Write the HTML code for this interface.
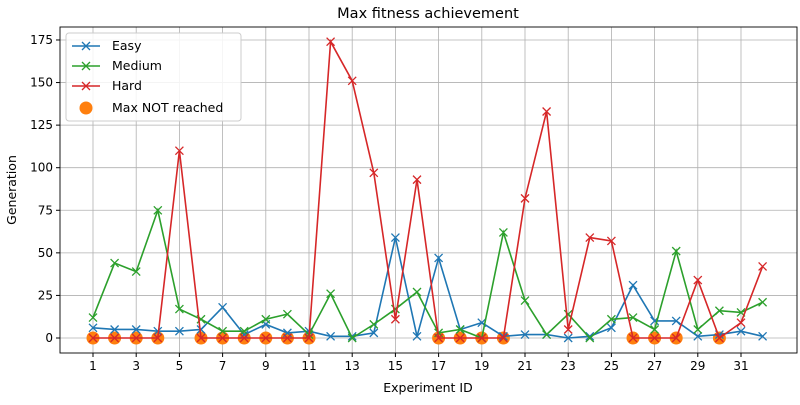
<!DOCTYPE html>
<html><head><meta charset="utf-8"><style>
body{margin:0;background:#fff;font-family:"Liberation Sans","DejaVu Sans",sans-serif;}
svg text{font-family:"DejaVu Sans","Liberation Sans",sans-serif;}
</style></head><body>
<svg id="c" width="800" height="400"></svg>
<script>
const ids=[1,2,3,4,5,6,7,8,9,10,11,12,13,14,15,16,17,18,19,20,21,22,23,24,25,26,27,28,29,30,31,32];
const easy=[6,5,5,4,4,5,18,2,8,3,4,1,1,3,59,1,47,5,9,1,2,2,0,1,6,31,10,10,1,2,4,1];
const medium=[12,44,39,75,17,11,4,4,11,14,2,26,0,8,17,27,3,5,0,62,22,2,14,0,11,12,5,51,5,16,15,21];
const hard=[0,0,0,0,110,0,0,0,0,0,0,174,151,97,11,93,0,0,0,0,82,133,5,59,57,0,0,0,34,0,9,42];
const notReached=[1,2,3,4,6,7,8,9,10,11,17,18,19,20,26,27,28,30];
const xTicks=[1,3,5,7,9,11,13,15,17,19,21,23,25,27,29,31];
const yTicks=[0,25,50,75,100,125,150,175];
const L=60,R=797,T=27,B=353;
const X=v=>93+(v-1)*21.6;
const Y=v=>338-v*1.703;
const s=document.getElementById('c');const NS='http://www.w3.org/2000/svg';
function el(t,a,p){const e=document.createElementNS(NS,t);for(const k in a)e.setAttribute(k,a[k]);(p||s).appendChild(e);return e;}
let e;
xTicks.forEach(v=>{e=el('line',{x1:X(v),x2:X(v),y1:T,y2:B,stroke:'#b0b0b0','stroke-width':0.8});

el('line',{x1:X(v),x2:X(v),y1:B,y2:B+4,stroke:'#000'});
e=el('text',{x:X(v),y:B+17,'font-size':12,'text-anchor':'middle'});e.textContent=v;
});
yTicks.forEach(v=>{e=el('line',{x1:L,x2:R,y1:Y(v),y2:Y(v),stroke:'#b0b0b0','stroke-width':0.8});

el('line',{x1:L-4,x2:L,y1:Y(v),y2:Y(v),stroke:'#000'});
e=el('text',{x:L-7,y:Y(v)+4,'font-size':12,'text-anchor':'end'});e.textContent=v;
});
e=el('rect',{x:L,y:T,width:R-L,height:B-T,fill:'none',stroke:'#000','stroke-width':0.9});

function series(vals,col,name){
 e=el('polyline',{points:vals.map((v,i)=>X(ids[i])+','+Y(v)).join(' '),fill:'none',stroke:col,'stroke-width':1.6});
 
 vals.forEach((v,i)=>{const x=X(ids[i]),y=Y(v);
  e=el('path',{d:`M${x-4},${y-4}L${x+4},${y+4}M${x-4},${y+4}L${x+4},${y-4}`,stroke:col,'stroke-width':1.3});
  });
}
notReached.forEach(id=>{e=el('circle',{cx:X(id),cy:Y(0),r:6.5,fill:'#ff7f0e'});
 });
series(easy,'#1f77b4','easy');series(medium,'#2ca02c','medium');series(hard,'#d62728','hard');
e=el('text',{x:428,y:18,'font-size':14.5,'text-anchor':'middle'});e.textContent='Max fitness achievement';

e=el('text',{x:428,y:392,'font-size':12.5,'text-anchor':'middle'});e.textContent='Experiment ID';

e=el('text',{x:16,y:190,'font-size':12.5,'text-anchor':'middle',transform:'rotate(-90 16 190)'});e.textContent='Generation';

const lg=el('g',{});
el('rect',{x:66,y:33,width:175,height:88,rx:3,fill:'#fff','fill-opacity':0.85,stroke:'#ccc'},lg);
[['Easy','#1f77b4'],['Medium','#2ca02c'],['Hard','#d62728']].forEach((d,i)=>{const y=46+i*20;
 el('line',{x1:72,x2:100,y1:y,y2:y,stroke:d[1],'stroke-width':1.6},lg);
 el('path',{d:`M82,${y-4}L90,${y+4}M82,${y+4}L90,${y-4}`,stroke:d[1],'stroke-width':1.3},lg);
 e=el('text',{x:112,y:y+4,'font-size':12.5},lg);e.textContent=d[0];
 });
el('circle',{cx:86,cy:108,r:6.5,fill:'#ff7f0e'},lg);
e=el('text',{x:112,y:112,'font-size':12.5},lg);e.textContent='Max NOT reached';

</script></body></html>
